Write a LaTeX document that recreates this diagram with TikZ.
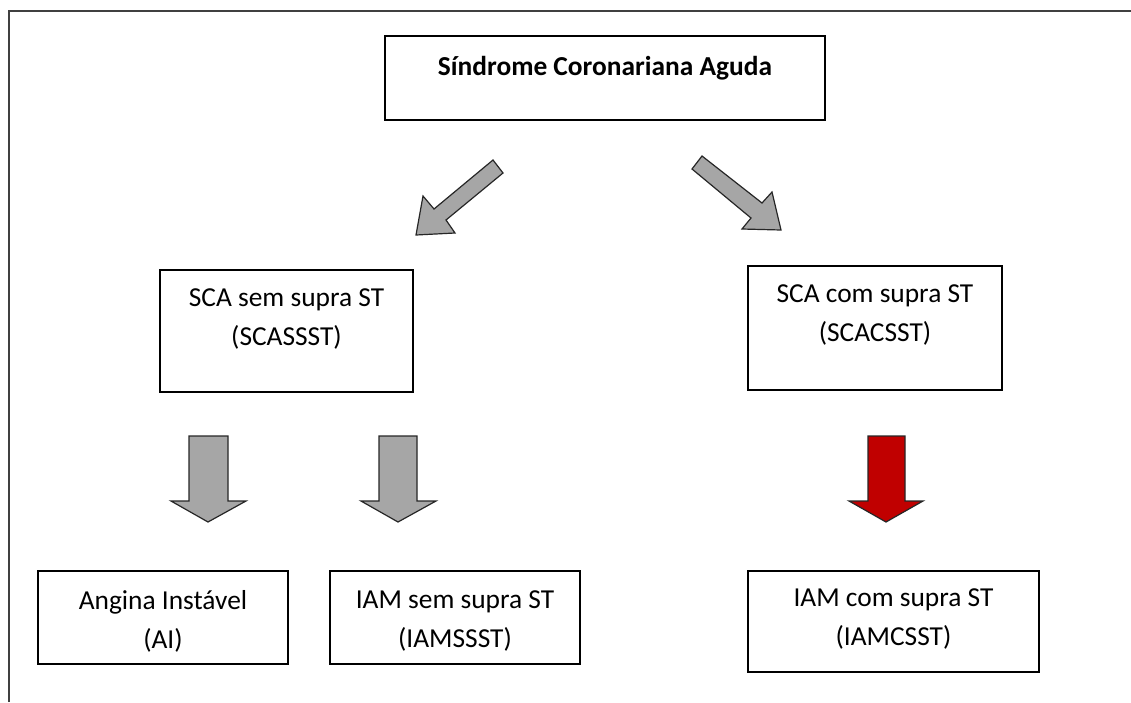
\documentclass[tikz,border=0pt]{standalone}
\usepackage{fontspec}
\setmainfont{Carlito}
\begin{document}
\begin{tikzpicture}[x=1pt,y=-1pt,
  box/.style={draw=black,line width=2pt,fill=white,inner sep=0pt},
  txt/.style={align=center,font=\fontsize{27.4}{39}\selectfont,inner sep=0pt},
  grayarrow/.style={draw=black!85,line width=1.2pt,fill=black!35,line join=miter},
  redarrow/.style={draw=black!85,line width=1.2pt,fill={rgb,255:red,192;green,0;blue,0},line join=miter},
  frameline/.style={draw=black!75,line width=1.6pt}]
\useasboundingbox (0,0) rectangle (1131,702);
% frame
\coordinate (fbl) at (9,702);
\coordinate (ftl) at (9,11);
\coordinate (ftr) at (1131,11);
\draw[frameline] (fbl) -- (ftl) -- (ftr);
% boxes
\node[box,minimum width=440pt,minimum height=84pt] (sca) at (605,78) {};
\node[txt,font=\fontsize{27.4}{39}\selectfont\bfseries] (scat) at (605,68) {Síndrome Coronariana Aguda};
\node[box,minimum width=253pt,minimum height=122pt] (sem) at (286.5,331) {};
\node[txt] (semt) at (286.5,319) {SCA sem supra ST\\(SCASSST)};
\node[box,minimum width=254pt,minimum height=124pt] (com) at (875,328) {};
\node[txt] (comt) at (875,315) {SCA com supra ST\\(SCACSST)};
\node[box,minimum width=250pt,minimum height=93pt] (ai) at (163,617.5) {};
\node[txt] (ait) at (163,621) {Angina Instável\\(AI)};
\node[box,minimum width=250pt,minimum height=93pt] (iamsem) at (455,617.5) {};
\node[txt] (iamsemt) at (455,621) {IAM sem supra ST\\(IAMSSST)};
\node[box,minimum width=291pt,minimum height=101pt] (iamcom) at (893.5,621.5) {};
\node[txt] (iamcomt) at (893.5,619) {IAM com supra ST\\(IAMCSST)};
% diagonal block arrows
\draw[grayarrow] (493,160) -- (503,173) -- (446,220) -- (455,233) -- (416,235) -- (423,196) -- (434,209) -- cycle;
\draw[grayarrow] (702,156) -- (762,203) -- (772,192) -- (781,230) -- (742,229) -- (751,218) -- (692,169) -- cycle;
% down block arrows
\draw[grayarrow] (189,436) -- (228,436) -- (228,501) -- (246,501) -- (208,522) -- (171,501) -- (189,501) -- cycle;
\draw[grayarrow] (379,436) -- (417,436) -- (417,501) -- (436,501) -- (398,522) -- (361,501) -- (379,501) -- cycle;
\draw[redarrow] (868,436) -- (905,436) -- (905,501) -- (923,501) -- (886,522) -- (849,501) -- (868,501) -- cycle;
\end{tikzpicture}
\end{document}
